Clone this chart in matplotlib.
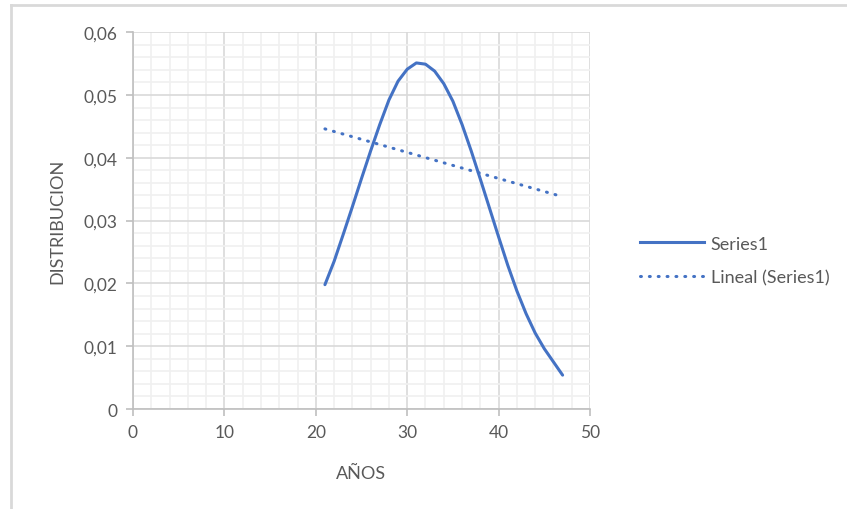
import numpy as np
import matplotlib
matplotlib.use("Agg")
import matplotlib.pyplot as plt
from matplotlib.ticker import MultipleLocator, FuncFormatter
from matplotlib.lines import Line2D

# datos
anios = [21, 22, 23, 24, 25, 26, 27, 28, 29, 30, 31, 32, 33, 34,
         35, 36, 37, 38, 39, 40, 41, 42, 43, 44, 45, 46, 47]
distribucion = [0.0198, 0.0235, 0.0278, 0.0322, 0.0367, 0.0411, 0.0453, 0.0492,
                0.0522, 0.0541, 0.0551, 0.0549, 0.0538, 0.0518, 0.0490, 0.0453,
                0.0411, 0.0366, 0.0320, 0.0274, 0.0229, 0.0188, 0.0152, 0.0121,
                0.0096, 0.0075, 0.0054]

# linea de tendencia (valores en los extremos)
tend_x = [21, 47]
tend_y = [0.0446, 0.0338]

azul = '#4472C4'
gris_txt = '#595959'
punteado = (0, (0.3, 2.6))

plt.rcParams['font.family'] = ['Lato', 'DejaVu Sans']

fig = plt.figure(figsize=(8.47, 5.10), dpi=100)
ax = fig.add_axes([0.157, 0.196, 0.5396, 0.739])

ax.plot(anios, distribucion, color=azul, lw=2.2, solid_capstyle='round',
        label='Series1', zorder=3)
ax.plot(tend_x, tend_y, color=azul, lw=2.2, linestyle=punteado,
        dash_capstyle='round', label='Lineal (Series1)', zorder=3)

ax.set_xlim(0, 50)
ax.set_ylim(0, 0.06)
ax.xaxis.set_major_locator(MultipleLocator(10))
ax.xaxis.set_minor_locator(MultipleLocator(2))
ax.yaxis.set_major_locator(MultipleLocator(0.01))
ax.yaxis.set_minor_locator(MultipleLocator(0.002))

def fmt(v, pos):
    if abs(v) < 1e-9:
        return '0'
    return ('%.2f' % v).replace('.', ',')

ax.yaxis.set_major_formatter(FuncFormatter(fmt))

ax.grid(which='major', color='#d9d9d9', lw=1.2)
ax.grid(which='minor', color='#f0f0f0', lw=1.2)
ax.set_axisbelow(True)

for s in ['top', 'right']:
    ax.spines[s].set_visible(False)
for s in ['left', 'bottom']:
    ax.spines[s].set_color('#bfbfbf')
    ax.spines[s].set_linewidth(1.2)

ax.tick_params(which='major', length=5, width=1.2, color='#bfbfbf',
               labelcolor=gris_txt, labelsize=12.5, pad=6)
ax.tick_params(which='minor', length=0)

ax.set_xlabel('AÑOS', color=gris_txt, fontsize=13, labelpad=18)
ax.set_ylabel('DISTRIBUCION', color=gris_txt, fontsize=13, labelpad=13)

handles = [Line2D([], [], color=azul, lw=2.2),
           Line2D([], [], color=azul, lw=2.2, linestyle=punteado,
                  dash_capstyle='round')]
fig.legend(handles, ['Series1', 'Lineal (Series1)'], loc='center left',
           bbox_to_anchor=(0.737, 0.487), frameon=False, fontsize=13,
           labelcolor=gris_txt, handlelength=3.5, labelspacing=1.0,
           handletextpad=0.4)

# marco del area del grafico (solo izquierda y arriba visibles)
fig.add_artist(Line2D([11 / 847, 11 / 847], [0, 1 - 6 / 510], color='#d9d9d9',
                      lw=2, transform=fig.transFigure))
fig.add_artist(Line2D([11 / 847, 1], [1 - 6 / 510, 1 - 6 / 510], color='#d9d9d9',
                      lw=2, transform=fig.transFigure))

fig.savefig('out.png', dpi=100, facecolor='white')
